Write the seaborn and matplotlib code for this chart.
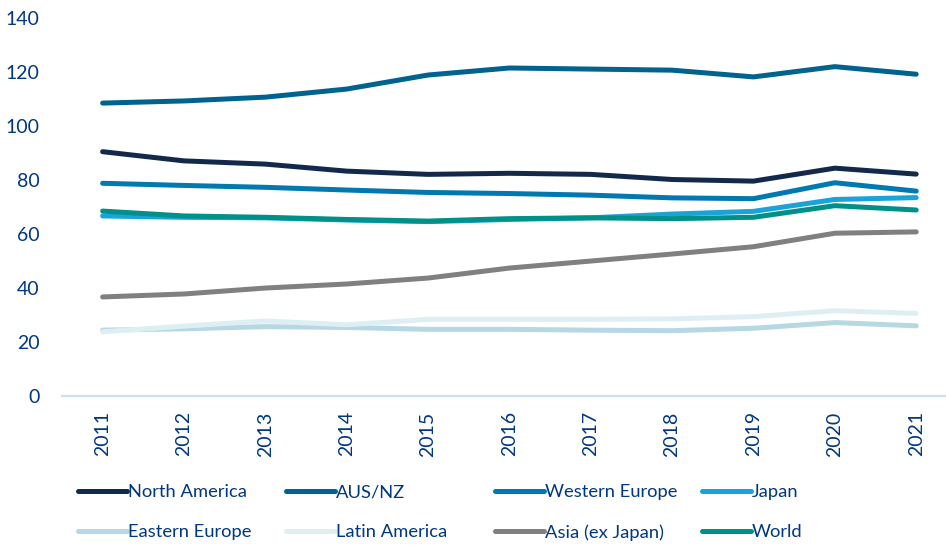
import pandas as pd
import matplotlib
matplotlib.use("Agg")
import matplotlib.pyplot as plt
import seaborn as sns

# years on the x axis
years = ["2011", "2012", "2013", "2014", "2015", "2016", "2017", "2018", "2019", "2020", "2021"]

# series values
north_america = [90.5, 87.1, 85.9, 83.3, 82.1, 82.5, 82.1, 80.2, 79.6, 84.4, 82.2]
aus_nz = [108.5, 109.3, 110.7, 113.7, 118.9, 121.5, 121.1, 120.7, 118.2, 122.0, 119.2]
western_europe = [78.8, 78.0, 77.3, 76.3, 75.4, 75.0, 74.4, 73.4, 73.1, 79.0, 75.9]
japan = [66.7, 66.2, 66.0, 65.2, 64.6, 65.4, 66.0, 67.4, 68.4, 72.8, 73.5]
eastern_europe = [24.4, 24.9, 25.7, 25.4, 24.7, 24.7, 24.4, 24.2, 25.1, 27.2, 26.0]
latin_america = [23.8, 25.9, 27.8, 26.4, 28.4, 28.4, 28.4, 28.6, 29.4, 31.6, 30.6]
asia_ex_japan = [36.7, 37.8, 40.0, 41.5, 43.7, 47.4, 50.0, 52.6, 55.3, 60.3, 60.8]
world = [68.5, 66.7, 66.2, 65.4, 64.8, 65.7, 66.0, 65.7, 66.2, 70.5, 68.9]

series = {
    "North America": north_america,
    "AUS/NZ": aus_nz,
    "Western Europe": western_europe,
    "Japan": japan,
    "Eastern Europe": eastern_europe,
    "Latin America": latin_america,
    "Asia (ex Japan)": asia_ex_japan,
    "World": world,
}
colors = ["#13294b", "#00628f", "#0079b0", "#1aa3d9",
          "#b5d8e4", "#deeff3", "#808080", "#00908a"]

# long format for seaborn
rows = []
for name, vals in series.items():
    for i, v in enumerate(vals):
        rows.append({"year": i, "value": v, "region": name})
df = pd.DataFrame(rows)

sns.set_theme(style="white")
plt.rcParams["font.family"] = ["Lato", "DejaVu Sans"]
text_color = "#003781"

fig = plt.figure(figsize=(9.46, 5.47), dpi=100)
ax = fig.add_axes([0.0655, 0.276, 0.946, 0.691])

sns.lineplot(data=df, x="year", y="value", hue="region",
             palette=colors, linewidth=3.6, ax=ax, legend=False)
for line in ax.get_lines():
    line.set_solid_capstyle("round")
    line.set_solid_joinstyle("round")

ax.set_xlim(-0.5, 10.5)
ax.set_ylim(0, 140)
ax.set_yticks(range(0, 141, 20))
ax.set_xticks(range(len(years)))
ax.set_xticklabels(years, rotation=90)
ax.tick_params(axis="y", length=0, pad=16, labelsize=14, labelcolor=text_color)
ax.tick_params(axis="x", length=0, pad=11, labelsize=14, labelcolor=text_color)
ax.set_xlabel("")
ax.set_ylabel("")

for s in ["top", "right", "left"]:
    ax.spines[s].set_visible(False)
ax.spines["bottom"].set_color("#c8e0f8")
ax.spines["bottom"].set_linewidth(1.6)

# legend: four equal-width columns, two rows
lines = ax.get_lines()
names = list(series.keys())
col_x = [77, 285, 494, 701]
for c in range(4):
    idx = [c, c + 4]
    fig.legend([lines[i] for i in idx], [names[i] for i in idx],
               loc="upper left", bbox_to_anchor=(col_x[c] / 946 - 0.007, 1 - 477 / 547),
               frameon=False, fontsize=13.2, handlelength=2.7, handletextpad=0.05,
               labelspacing=1.3, borderaxespad=0, labelcolor=text_color)

fig.savefig("out.png", dpi=100)
